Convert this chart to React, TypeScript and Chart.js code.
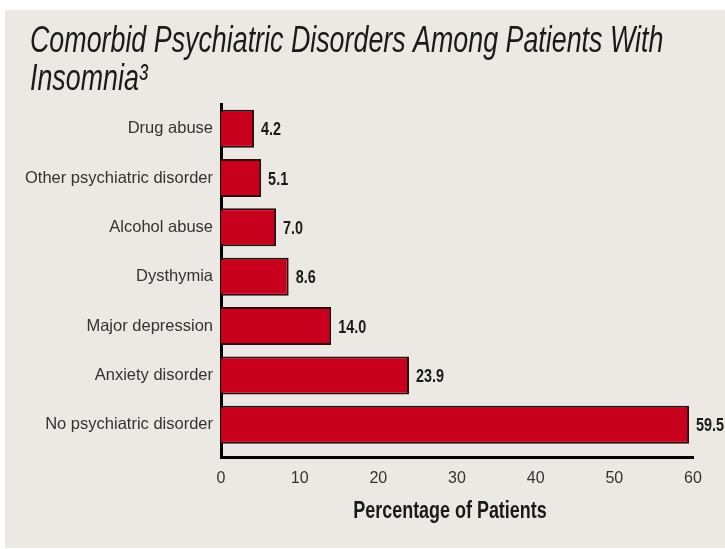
import React, { useEffect, useRef } from "react";
import { Chart, registerables } from "chart.js";

Chart.register(...registerables);

const categories = [
  "Drug abuse",
  "Other psychiatric disorder",
  "Alcohol abuse",
  "Dysthymia",
  "Major depression",
  "Anxiety disorder",
  "No psychiatric disorder",
];
const values = [4.2, 5.1, 7.0, 8.6, 14.0, 23.9, 59.5];
const xTicks = [0, 10, 20, 30, 40, 50, 60];
const titleLines = ["Comorbid Psychiatric Disorders Among Patients With", "Insomnia\u00B3"];
const xAxisTitle = "Percentage of Patients";

const FONT = "'Liberation Sans', Arial, sans-serif";

function drawCondensed(
  ctx: CanvasRenderingContext2D,
  text: string,
  x: number,
  y: number,
  font: string,
  sx: number,
  align: CanvasTextAlign,
  color: string
) {
  ctx.save();
  ctx.font = font;
  ctx.fillStyle = color;
  ctx.textBaseline = "alphabetic";
  ctx.textAlign = align;
  ctx.translate(x, y);
  ctx.scale(sx, 1);
  ctx.fillText(text, 0, 0);
  ctx.restore();
}

const textPlugin = {
  id: "textPlugin",
  afterDraw(chart: any) {
    const ctx = chart.ctx as CanvasRenderingContext2D;
    const area = chart.chartArea;
    titleLines.forEach((line, i) => {
      drawCondensed(ctx, line, 30, 52 + i * 38, `italic 37px ${FONT}`, 0.725, "left", "#1a1a1a");
    });
    const meta = chart.getDatasetMeta(0);
    meta.data.forEach((bar: any, i: number) => {
      drawCondensed(ctx, values[i].toFixed(1), bar.x + 7, bar.y + 6.5, `bold 18px ${FONT}`, 0.8, "left", "#1a1a1a");
    });
    drawCondensed(
      ctx,
      xAxisTitle,
      (area.left + area.right) / 2 - 7,
      area.bottom + 60,
      `bold 23px ${FONT}`,
      0.78,
      "center",
      "#1a1a1a"
    );
  },
};

export default function App() {
  const ref = useRef<HTMLCanvasElement | null>(null);
  useEffect(() => {
    if (!ref.current) return;
    const chart = new Chart(ref.current, {
      type: "bar",
      data: {
        datasets: [
          {
            data: values.map((v, i) => ({ x: v, y: i })),
            backgroundColor: "#c8001e",
            borderColor: "#300a0b",
            borderWidth: 2,
            barPercentage: 0.77,
            categoryPercentage: 1,
          },
        ],
      },
      options: {
        indexAxis: "y",
        responsive: false,
        animation: false,
        layout: { padding: { left: 10, right: 32, top: 104, bottom: 50 } },
        plugins: {
          legend: { display: false },
          tooltip: { enabled: false },
          title: { display: false },
        },
        scales: {
          x: {
            type: "linear",
            min: xTicks[0],
            max: xTicks[xTicks.length - 1],
            afterBuildTicks: (scale: any) => {
              scale.ticks = xTicks.map((v) => ({ value: v }));
            },
            ticks: { color: "#333", padding: 11, font: { family: FONT, size: 16 } },
            grid: { display: false, drawTicks: false },
            border: { display: true, color: "#000", width: 3 },
          },
          y: {
            type: "linear",
            reverse: true,
            offset: false,
            min: -0.5,
            max: 6.67,
            afterBuildTicks: (scale: any) => {
              scale.ticks = scale.ticks.filter((t: any) => Number.isInteger(t.value));
            },
            afterFit: (scale: any) => {
              scale.width = 211;
            },
            ticks: {
              stepSize: 1,
              autoSkip: false,
              color: "#333",
              padding: 8,
              font: { family: FONT, size: 16.5 },
              callback: (v: any) => categories[v as number],
            },
            grid: { display: false, drawTicks: false },
            border: { display: true, color: "#000", width: 3 },
          },
        },
      },
      plugins: [textPlugin],
    } as any);
    return () => chart.destroy();
  }, []);

  return (
    <div style={{ position: "fixed", left: 0, top: 0, width: 725, height: 549, background: "#fff" }}>
      <div
        style={{ position: "absolute", left: 5, top: 10, width: 720, height: 538, background: "#ece8e3" }}
      />
      <canvas ref={ref} width={725} height={549} style={{ position: "absolute", left: 0, top: 0 }} />
    </div>
  );
}
